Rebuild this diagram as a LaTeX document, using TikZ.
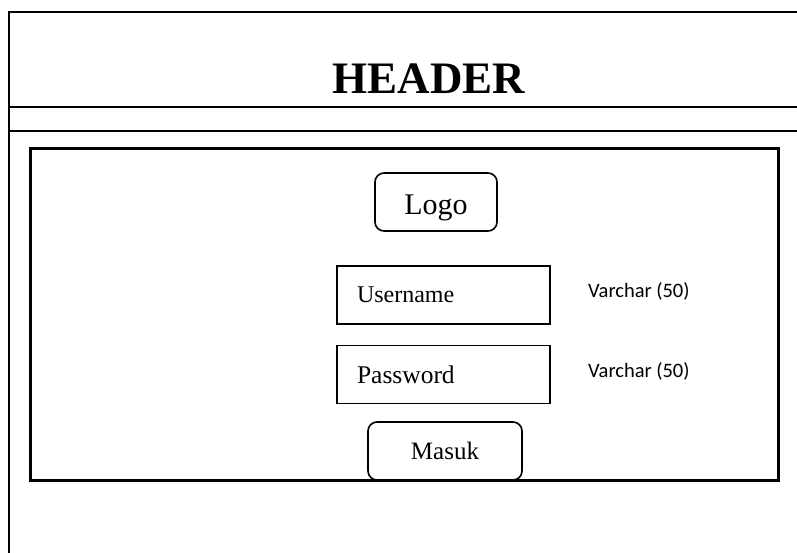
\documentclass[tikz,border=0pt]{standalone}
\usepackage{fontspec}
\setmainfont{Liberation Serif}
\newfontfamily\calfont{Carlito}
\begin{document}
\begin{tikzpicture}[x=1pt,y=-1pt,
  frameline/.style={line width=2.5pt},
  field/.style={draw,line width=1.6pt,minimum width=213pt,minimum height=58pt,text width=173pt,inner xsep=20pt,align=left,font=\fontsize{24}{24}\selectfont},
  rbox/.style={draw,line width=1.6pt,rounded corners=9pt,font=\fontsize{27}{27}\selectfont},
  note/.style={anchor=base west,inner sep=0pt,font=\calfont\fontsize{20.5}{20.5}\selectfont}]
\useasboundingbox (0,0) rectangle (797,552);
% outer frame
\coordinate (tl) at (9,12);
\coordinate (tr) at (800,12);
\coordinate (bl) at (9,556);
\coordinate (h1l) at (9,107);
\coordinate (h1r) at (800,107);
\coordinate (h2l) at (9,131);
\coordinate (h2r) at (800,131);
\draw[frameline] (tr) -- (tl) -- (bl);
\draw[frameline] (h1l) -- (h1r);
\draw[frameline] (h2l) -- (h2r);
\node[anchor=base,inner sep=0pt,font=\bfseries\fontsize{45}{45}\selectfont] (header) at (429,93) {HEADER};
% inner panel
\node[draw,line width=3pt,minimum width=748pt,minimum height=332pt,inner sep=0pt] (panel) at (404,314) {};
\node[rbox,minimum width=122pt,minimum height=58pt,text height=24pt,text depth=0pt,font=\fontsize{30}{30}\selectfont] (logo) at (436,202) {Logo};
\node[field] (user) at (443.5,295) {Username};
\node[field,font=\fontsize{25.5}{25.5}\selectfont] (pass) at (443.5,374.5) {Password};
\node[rbox,fill=white,minimum width=154pt,minimum height=58pt,font=\fontsize{25}{25}\selectfont] (masuk) at (445,451) {Masuk};
\node[note] (v1) at (588,297) {Varchar (50)};
\node[note] (v2) at (588,377) {Varchar (50)};
\end{tikzpicture}
\end{document}
